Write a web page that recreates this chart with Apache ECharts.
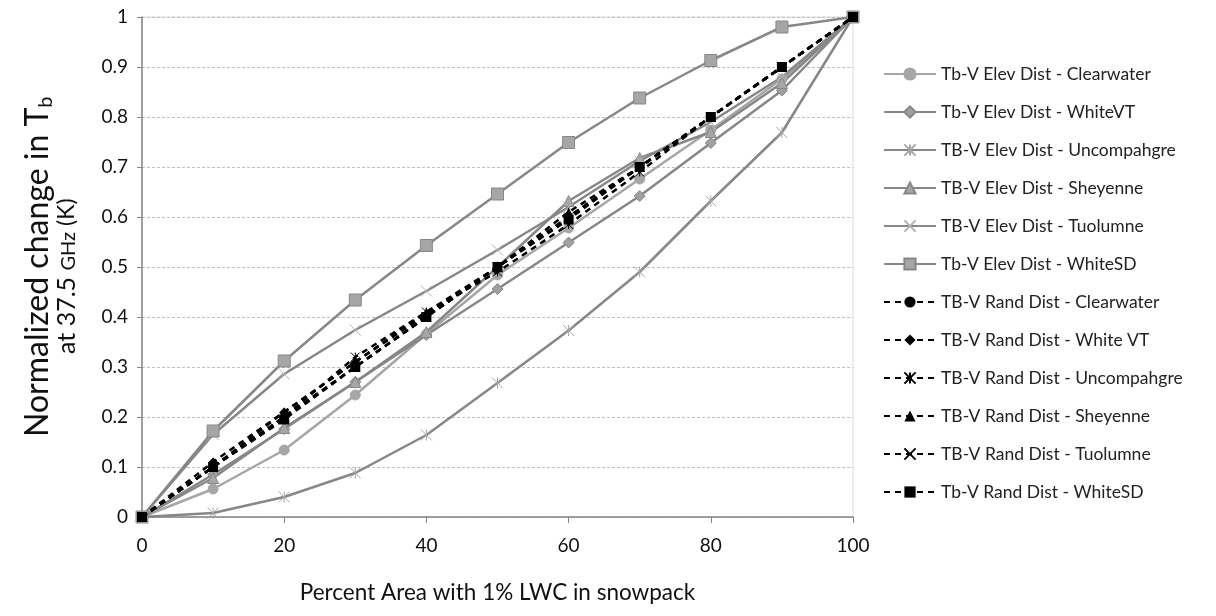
<!DOCTYPE html>
<html>
<head>
<meta charset="utf-8">
<script src="https://cdn.jsdelivr.net/npm/echarts@6/dist/echarts.min.js"></script>
<style>
  html, body { margin: 0; padding: 0; background: #fff; }
  #chart { width: 1216px; height: 616px; }
</style>
</head>
<body>
<div id="chart"></div>
<script>
var xValues = [0, 10, 20, 30, 40, 50, 60, 70, 80, 90, 100];

// elevation distribution (solid grey)
var elevClearwater  = [0, 0.056, 0.134, 0.244, 0.366, 0.484, 0.578, 0.676, 0.774, 0.876, 1];
var elevWhiteVT     = [0, 0.085, 0.176, 0.270, 0.364, 0.456, 0.549, 0.642, 0.748, 0.853, 1];
var elevUncompahgre = [0, 0.008, 0.040, 0.088, 0.164, 0.268, 0.373, 0.490, 0.632, 0.769, 1];
var elevSheyenne    = [0, 0.078, 0.178, 0.270, 0.370, 0.500, 0.632, 0.718, 0.770, 0.868, 1];
var elevTuolumne    = [0, 0.165, 0.286, 0.374, 0.452, 0.534, 0.620, 0.712, 0.790, 0.880, 1];
var elevWhiteSD     = [0, 0.172, 0.312, 0.434, 0.543, 0.646, 0.749, 0.838, 0.913, 0.980, 1];

// random distribution (black dashed)
var randClearwater  = [0, 0.100, 0.200, 0.300, 0.400, 0.500, 0.600, 0.700, 0.800, 0.900, 1];
var randWhiteVT     = [0, 0.110, 0.210, 0.310, 0.405, 0.500, 0.600, 0.700, 0.800, 0.900, 1];
var randUncompahgre = [0, 0.100, 0.200, 0.320, 0.410, 0.490, 0.585, 0.690, 0.800, 0.900, 1];
var randSheyenne    = [0, 0.100, 0.210, 0.310, 0.410, 0.500, 0.610, 0.700, 0.800, 0.900, 1];
var randTuolumne    = [0, 0.100, 0.200, 0.300, 0.400, 0.500, 0.600, 0.700, 0.800, 0.900, 1];
var randWhiteSD     = [0, 0.100, 0.195, 0.300, 0.400, 0.500, 0.595, 0.700, 0.800, 0.900, 1];

var starPath = 'path://M0,0L10,10M10,0L0,10M5,0L5,10';
var crossPath = 'path://M0,0L10,10M10,0L0,10';

function pairs(ys) {
    return xValues.map(function(x, i) { return [x, ys[i]]; });
}

function elev(name, ys, lineColor, symbol, size, fill, border) {
    var stroked = symbol.indexOf('path://') === 0;
    return {
        name: name, type: 'line', data: pairs(ys),
        symbol: symbol, symbolSize: size,
        lineStyle: { color: lineColor, width: 2.5 },
        itemStyle: stroked
            ? { color: 'rgba(0,0,0,0)', borderColor: fill, borderWidth: 1 }
            : { color: fill, borderColor: border, borderWidth: 1 },
        z: 2
    };
}

function rand(name, ys, symbol, size) {
    var stroked = symbol.indexOf('path://') === 0;
    return {
        name: name, type: 'line', data: pairs(ys),
        symbol: symbol, symbolSize: size,
        lineStyle: { color: '#000', width: 2.5, type: [6, 5] },
        itemStyle: stroked
            ? { color: 'rgba(0,0,0,0)', borderColor: '#000', borderWidth: 1 }
            : { color: '#000' },
        z: 3
    };
}

var chart = echarts.init(document.getElementById('chart'));
var font = 'Lato, "Open Sans", sans-serif';

var option = {
    animation: false,
    textStyle: { fontFamily: font },
    grid: { left: 142, right: 363, top: 17, bottom: 99, show: true, borderColor: '#d9d9d9', borderWidth: 1 },
    xAxis: {
        type: 'value', min: 0, max: 100, interval: 20,
        axisLine: { lineStyle: { color: '#868686', width: 1.5 } },
        axisTick: { show: true, length: 6, lineStyle: { color: '#868686' } },
        axisLabel: { fontSize: 19, color: '#111', margin: 19, fontFamily: font },
        splitLine: { show: false },
        name: 'Percent Area with 1% LWC in snowpack',
        nameLocation: 'middle', nameGap: 64,
        nameTextStyle: { fontSize: 22.5, color: '#111', fontFamily: font }
    },
    yAxis: {
        type: 'value', min: 0, max: 1, interval: 0.1,
        axisLine: { show: true, lineStyle: { color: '#868686', width: 1.5 } },
        axisTick: { show: true, length: 5, lineStyle: { color: '#868686' } },
        axisLabel: { fontSize: 19, color: '#111', margin: 14, fontFamily: font,
            formatter: function(v) { return String(Math.round(v * 10) / 10); } },
        splitLine: { lineStyle: { color: '#bfbfbf', type: [3, 2], width: 1 } }
    },
    legend: {
        orient: 'vertical', left: 878, top: 60,
        itemWidth: 52, itemHeight: 14, itemGap: 20,
        textStyle: { fontSize: 17.5, color: '#222', fontFamily: font, padding: [0, 0, 0, 0] }
    },
    graphic: [
        {
            type: 'text',
            style: {
                text: '{a|Normalized change in T}{s|b}',
                rich: {
                    a: { fontSize: 32, fontFamily: font, fill: '#111' },
                    s: { fontSize: 20, fontFamily: font, fill: '#111', padding: [17, 0, 0, 0] }
                }
            },
            x: 19, y: 437, rotation: Math.PI / 2
        },
        {
            type: 'text',
            style: {
                text: '{a|at 37.5 }{b|GHz}{c| (K)}',
                rich: {
                    a: { fontSize: 25, fontFamily: font, fill: '#111' },
                    b: { fontSize: 20, fontFamily: font, fill: '#111', padding: [4, 0, 0, 0] },
                    c: { fontSize: 23, fontFamily: font, fill: '#111' }
                }
            },
            x: 54, y: 354, rotation: Math.PI / 2
        }
    ],
    series: [
        elev('Tb-V Elev Dist - Clearwater', elevClearwater, '#a6a6a6', 'circle', 10, '#a6a6a6', '#a6a6a6'),
        elev('Tb-V Elev Dist - WhiteVT', elevWhiteVT, '#878787', 'diamond', 11, '#a0a0a0', '#878787'),
        elev('TB-V Elev Dist - Uncompahgre', elevUncompahgre, '#878787', starPath, 11, '#a6a6a6'),
        elev('TB-V Elev Dist - Sheyenne', elevSheyenne, '#878787', 'triangle', 11, '#a6a6a6', '#878787'),
        elev('TB-V Elev Dist - Tuolumne', elevTuolumne, '#878787', crossPath, 11, '#b0b0b0'),
        elev('Tb-V Elev Dist - WhiteSD', elevWhiteSD, '#878787', 'rect', 12, '#a6a6a6', '#878787'),
        rand('TB-V Rand Dist - Clearwater', randClearwater, 'circle', 8),
        rand('TB-V Rand Dist - White VT', randWhiteVT, 'diamond', 9),
        rand('TB-V Rand Dist - Uncompahgre', randUncompahgre, starPath, 9),
        rand('TB-V Rand Dist - Sheyenne', randSheyenne, 'triangle', 9),
        rand('TB-V Rand Dist - Tuolumne', randTuolumne, crossPath, 9),
        rand('Tb-V Rand Dist - WhiteSD', randWhiteSD, 'rect', 10)
    ]
};
chart.setOption(option);
</script>
</body>
</html>
